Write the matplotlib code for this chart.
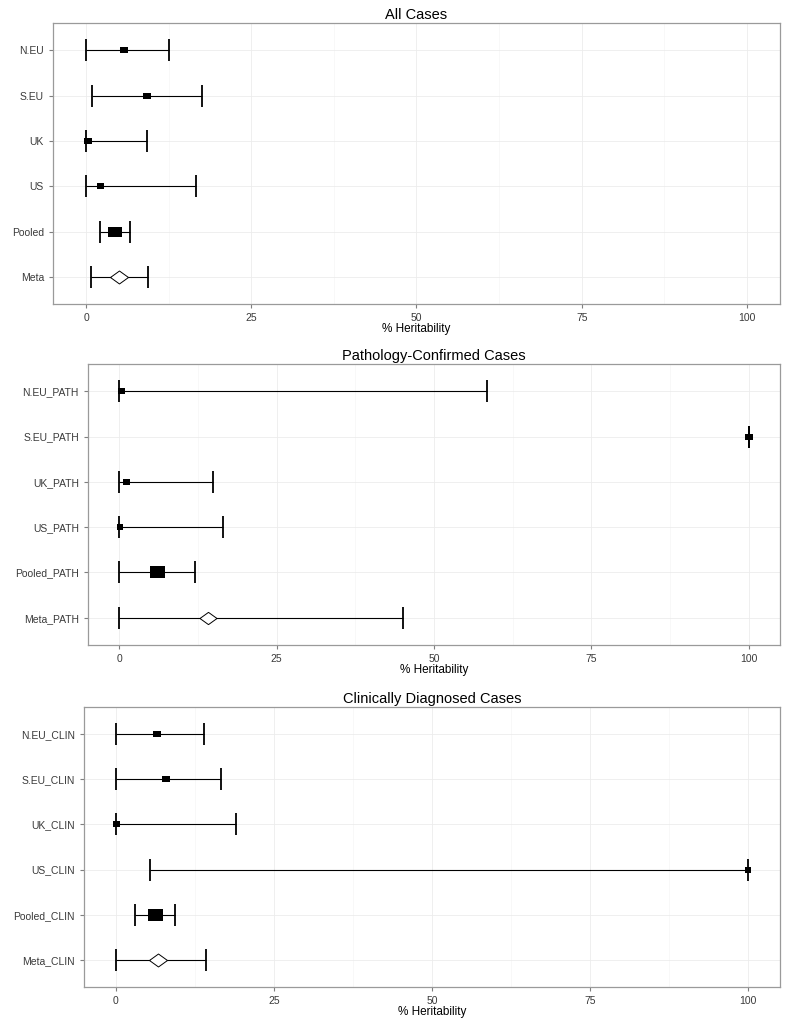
import matplotlib.pyplot as plt
from matplotlib.ticker import MultipleLocator

plt.rcParams['font.family'] = ['Liberation Sans', 'DejaVu Sans']

# Panel 1: all cases
all_labels = ['N.EU', 'S.EU', 'UK', 'US', 'Pooled', 'Meta']
all_est = [5.7, 9.2, 0.3, 2.1, 4.4, 5.0]
all_lo = [0.0, 0.9, 0.0, 0.0, 2.1, 0.75]
all_hi = [12.5, 17.5, 9.3, 16.7, 6.7, 9.4]
all_weight = [7.5, 8, 8, 7, 14, 18]

# Panel 2: pathology-confirmed
path_labels = ['N.EU_PATH', 'S.EU_PATH', 'UK_PATH', 'US_PATH', 'Pooled_PATH', 'Meta_PATH']
path_est = [0.2, 100.0, 1.0, 0.1, 5.9, 14.0]
path_lo = [0.0, 100.0, 0.0, 0.0, 0.0, 0.0]
path_hi = [58.4, 100.0, 14.9, 16.5, 12.0, 45.0]
path_weight = [7, 8, 7, 6.5, 15, 17]

# Panel 3: clinically diagnosed
clin_labels = ['N.EU_CLIN', 'S.EU_CLIN', 'UK_CLIN', 'US_CLIN', 'Pooled_CLIN', 'Meta_CLIN']
clin_est = [6.6, 8.0, 0.1, 100.0, 6.2, 6.75]
clin_lo = [0.0, 0.0, 0.0, 5.4, 3.05, 0.0]
clin_hi = [13.9, 16.7, 19.0, 100.0, 9.4, 14.3]
clin_weight = [8, 8.5, 7, 6.5, 15, 18]

titles = ['All Cases', 'Pathology-Confirmed Cases', 'Clinically Diagnosed Cases']

# marker shapes (square stretched a bit, open diamond for the meta estimate)
rect = [(-1, -0.78), (1, -0.78), (1, 0.78), (-1, 0.78), (-1, -0.78)]
diamond = [(-1, 0), (0, 0.72), (1, 0), (0, -0.72), (-1, 0)]

fig = plt.figure(figsize=(7.92, 10.23), dpi=100)
boxes = [
    [0.0669, 0.7028, 0.9848 - 0.0669, 0.9775 - 0.7028],
    [0.1111, 0.3695, 0.9848 - 0.1111, 0.6442 - 0.3695],
    [0.1061, 0.0352, 0.9848 - 0.1061, 0.3089 - 0.0352],
]
panels = [
    (all_labels, all_est, all_lo, all_hi, all_weight),
    (path_labels, path_est, path_lo, path_hi, path_weight),
    (clin_labels, clin_est, clin_lo, clin_hi, clin_weight),
]

for box, title, (labels, est, lo, hi, weight) in zip(boxes, titles, panels):
    ax = fig.add_axes(box)
    ypos = list(range(len(labels)))
    for i in ypos:
        ax.errorbar([est[i]], [i], xerr=[[est[i] - lo[i]], [hi[i] - est[i]]],
                    fmt='none', ecolor='black', elinewidth=0.8,
                    capsize=7.9, capthick=1.3, zorder=2)
        px = weight[i] * 0.72
        if i == len(labels) - 1:
            ax.plot(est[i], i, marker=diamond, markersize=px, mfc='white',
                    mec='black', mew=0.7, linestyle='none', zorder=3)
        else:
            ax.plot(est[i], i, marker=rect, markersize=px, mfc='black',
                    mec='black', mew=0, linestyle='none', zorder=3)

    ax.set_xlim(-5, 105)
    ax.set_ylim(len(labels) - 0.4, -0.6)
    ax.set_yticks(ypos)
    ax.set_yticklabels(labels)
    ax.set_xticks([0, 25, 50, 75, 100])
    ax.xaxis.set_minor_locator(MultipleLocator(12.5))
    ax.tick_params(axis='both', which='major', labelsize=7.5, colors='#7f7f7f',
                   labelcolor='#3a3a3a', length=3, width=0.8)
    ax.tick_params(axis='x', which='minor', length=0)
    ax.grid(True, which='major', color='#ececec', lw=0.6)
    ax.grid(True, which='minor', axis='x', color='#f5f5f5', lw=0.5)
    ax.set_axisbelow(True)
    for sp in ax.spines.values():
        sp.set_color('#9a9a9a')
        sp.set_linewidth(0.9)
    ax.set_title(title, fontsize=10.5, pad=3)
    ax.set_xlabel('% Heritability', fontsize=8.5, labelpad=0)

fig.savefig('out.png', dpi=100)
